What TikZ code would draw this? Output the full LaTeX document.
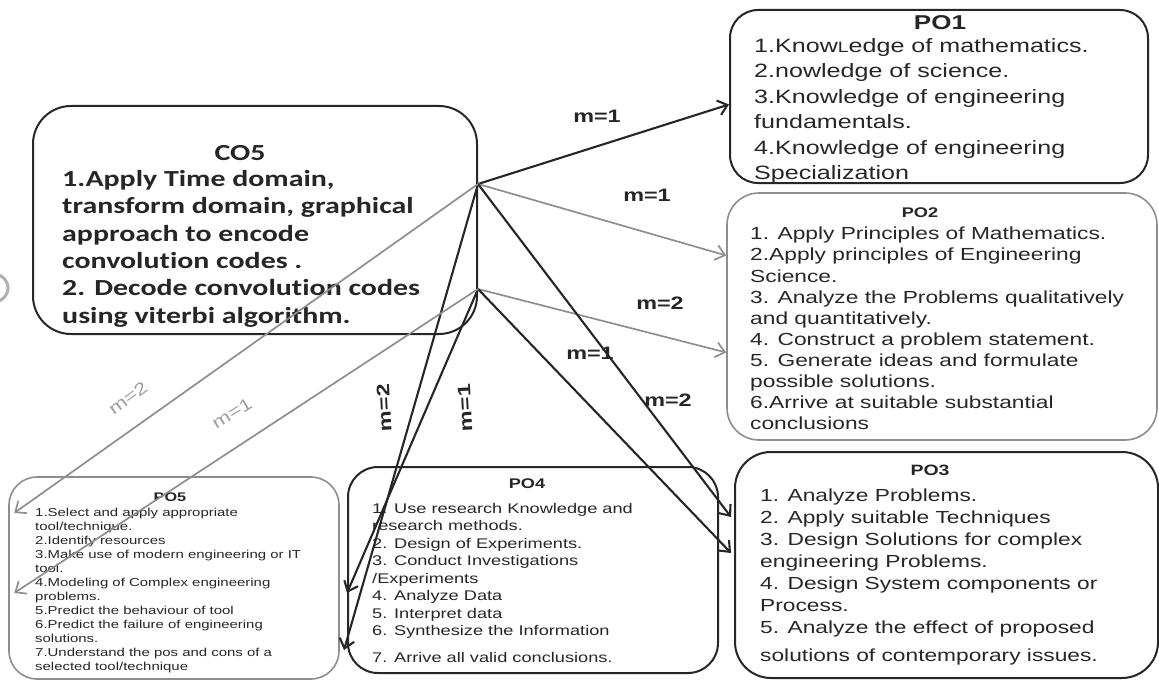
\documentclass[tikz,border=0pt]{standalone}
\usepackage{fontspec}
\setmainfont[FakeStretch=1.3]{Liberation Sans}
\newfontfamily\cofont[FakeStretch=1.3, RawFeature={-liga;-clig;-calt;-dlig}]{Carlito}
\usetikzlibrary{arrows.meta}
\usetikzlibrary{positioning}
\definecolor{inkdark}{HTML}{262626}
\definecolor{inkgray}{HTML}{8E8E8E}
\newcommand{\setfs}[2]{\fontsize{#1}{#2}\selectfont}
\tikzset{darkbox/.style = {draw=inkdark, line width=2pt, rounded corners=30pt, inner sep=0}}
\tikzset{greybox/.style = {draw=inkgray, line width=1.6pt, rounded corners=32pt, inner sep=0}}
\tikzset{items/.style = {anchor=north west, align=left, inner sep=0, text=inkdark}}
\tikzset{boxtitle/.style = {inner sep=0, text=inkdark}}
\tikzset{darklink/.style = {draw=inkdark, line width=2.1pt, -{Straight Barb[length=9pt,width=15pt]}}}
\tikzset{greylink/.style = {draw=inkgray, line width=1.7pt, -{Straight Barb[length=9pt,width=15pt]}}}
\tikzset{weight/.style = {inner sep=0, text=inkdark, font=\bfseries\setfs{18}{18}}}
\tikzset{greyweight/.style = {inner sep=0, text=inkgray!85, font=\setfs{17}{17}}}

\begin{document}
\begin{tikzpicture}[x=1pt, y=-1pt]
    \useasboundingbox (0,0) rectangle (1159,682);

    % course outcome
    \node [darkbox, minimum width=444pt, minimum height=228pt, rounded corners=38pt] (co5) at (255,220) {};
    \node [boxtitle, font=\cofont\bfseries\setfs{23}{27}] (co5title) at (240,153) {CO5};
    \node [items, font=\cofont\bfseries\setfs{23}{27.4}] (co5txt) at (62,170) {1.Apply Time domain,\\transform domain, graphical\\approach to encode\\convolut\kern0pt ion codes .\\2. Decode convolut\kern0pt ion codes\\using viterbi algorithm.};

    % programme outcomes
    \node [darkbox, minimum width=418pt, minimum height=173pt, rounded corners=28pt] (po1) at (939,96.5) {};
    \node [boxtitle, font=\bfseries\setfs{20}{20}] (po1title) at (940,23) {PO1};
    \node [items, font=\setfs{19.3}{25.5}] (po1txt) at (754,38) {1.Know{\setfs{15}{15}L}edge of mathematics.\\2.nowledge of science.\\3.Knowledge of engineering\\fundamentals.\\4.Knowledge of engineering\\Specialization};

    \node [greybox, minimum width=430pt, minimum height=247pt] (po2) at (942,316.5) {};
    \node [boxtitle, font=\bfseries\setfs{14}{14}] (po2title) at (920,213) {PO2};
    \node [items, font=\setfs{17.5}{21.1}] (po2txt) at (750,227) {1. Apply Principles of Mathematics.\\2.Apply principles of Engineering\\Science.\\3. Analyze the Problems qualitatively\\and quantitatively.\\4. Construct a problem statement.\\5. Generate ideas and formulate\\possible solutions.\\6.Arrive at suitable substantial\\conclusions};

    \node [darkbox, minimum width=423pt, minimum height=226pt, rounded corners=36pt] (po3) at (946.5,565) {};
    \node [boxtitle, font=\bfseries\setfs{15}{15}] (po3title) at (930,470) {PO3};
    \node [items, font=\setfs{17.5}{22}] (po3txt) at (760,489) {1. Analyze Problems.\\2. Apply suitable Techniques\\3. Design Solutions for complex\\engineering Problems.\\4. Design System components or\\Process.\\5. Analyze the effect of proposed\\[6pt]solutions of contemporary issues.};

    \node [darkbox, minimum width=370pt, minimum height=206pt] (po4) at (533,570) {};
    \node [boxtitle, font=\bfseries\setfs{14}{14}] (po4title) at (527,484) {PO4};
    \node [items, font=\setfs{14}{17.5}] (po4txt) at (372,503) {1. Use research Knowledge  and\\research methods.\\2. Design of Experiments.\\3. Conduct Investigations\\/Experiments\\4. Analyze Data\\5. Interpret data\\6. Synthesize the Information\\[9pt]7. Arrive all valid conclusions.};

    \node [greybox, minimum width=330pt, minimum height=202pt, rounded corners=28pt] (po5) at (174,578) {};
    \node [boxtitle, font=\bfseries\setfs{12.5}{12.5}] (po5title) at (170,497) {PO5};
    \node [items, font=\setfs{11.5}{14}] (po5txt) at (35,508) {1.Select and apply appropriate\\tool/technique.\\2.Identify resources\\3.Make use of modern engineering or IT\\tool.\\4.Modeling of Complex engineering\\problems.\\5.Predict the behaviour of tool\\6.Predict the failure of  engineering\\solutions.\\7.Understand the pos and cons of a\\selected tool/technique};

    % mapping links
    \coordinate (hubA) at ([yshift=36pt]co5.east);
    \coordinate (hubB) at ([yshift=-69pt]co5.east);

    \draw [darklink] (hubA) -- ([yshift=-8pt]po1.west);
    \draw [greylink] (hubA) -- ([yshift=61pt]po2.west);
    \draw [greylink] (hubB) -- ([yshift=-36pt]po2.west);
    \draw [darklink] (hubA) -- ([xshift=-3pt, yshift=48pt]po3.west);
    \draw [darklink] (hubB) -- ([xshift=-3pt, yshift=12pt]po3.west);
    \draw [darklink] (hubA) -- ([xshift=-3pt, yshift=-80pt]po4.west);
    \draw [darklink] (hubB) -- ([yshift=-23pt]po4.west);
    \draw [greylink] (hubA) -- ([xshift=6pt, yshift=65pt]po5.west);
    \draw [greylink] (hubB) -- ([xshift=6pt, yshift=-15pt]po5.west);

    \node [weight] (w1) at (597,116) {m=1};
    \node [weight] (w2) at (647,195) {m=1};
    \node [weight] (w3) at (660,303) {m=2};
    \node [weight] (w4) at (590,353) {m=1};
    \node [weight] (w5) at (668,400) {m=2};
    \node [weight, rotate=93] (w6) at (384,408) {m=2};
    \node [weight, rotate=93] (w7) at (465,408) {m=1};
    \node [greyweight, rotate=36] (w8) at (128,398) {m=2};
    \node [greyweight, rotate=31] (w9) at (232,413) {m=1};

    % edge of the page
    \draw [inkgray!70, line width=3pt] (-6,288) circle (14pt);
\end{tikzpicture}
\end{document}
